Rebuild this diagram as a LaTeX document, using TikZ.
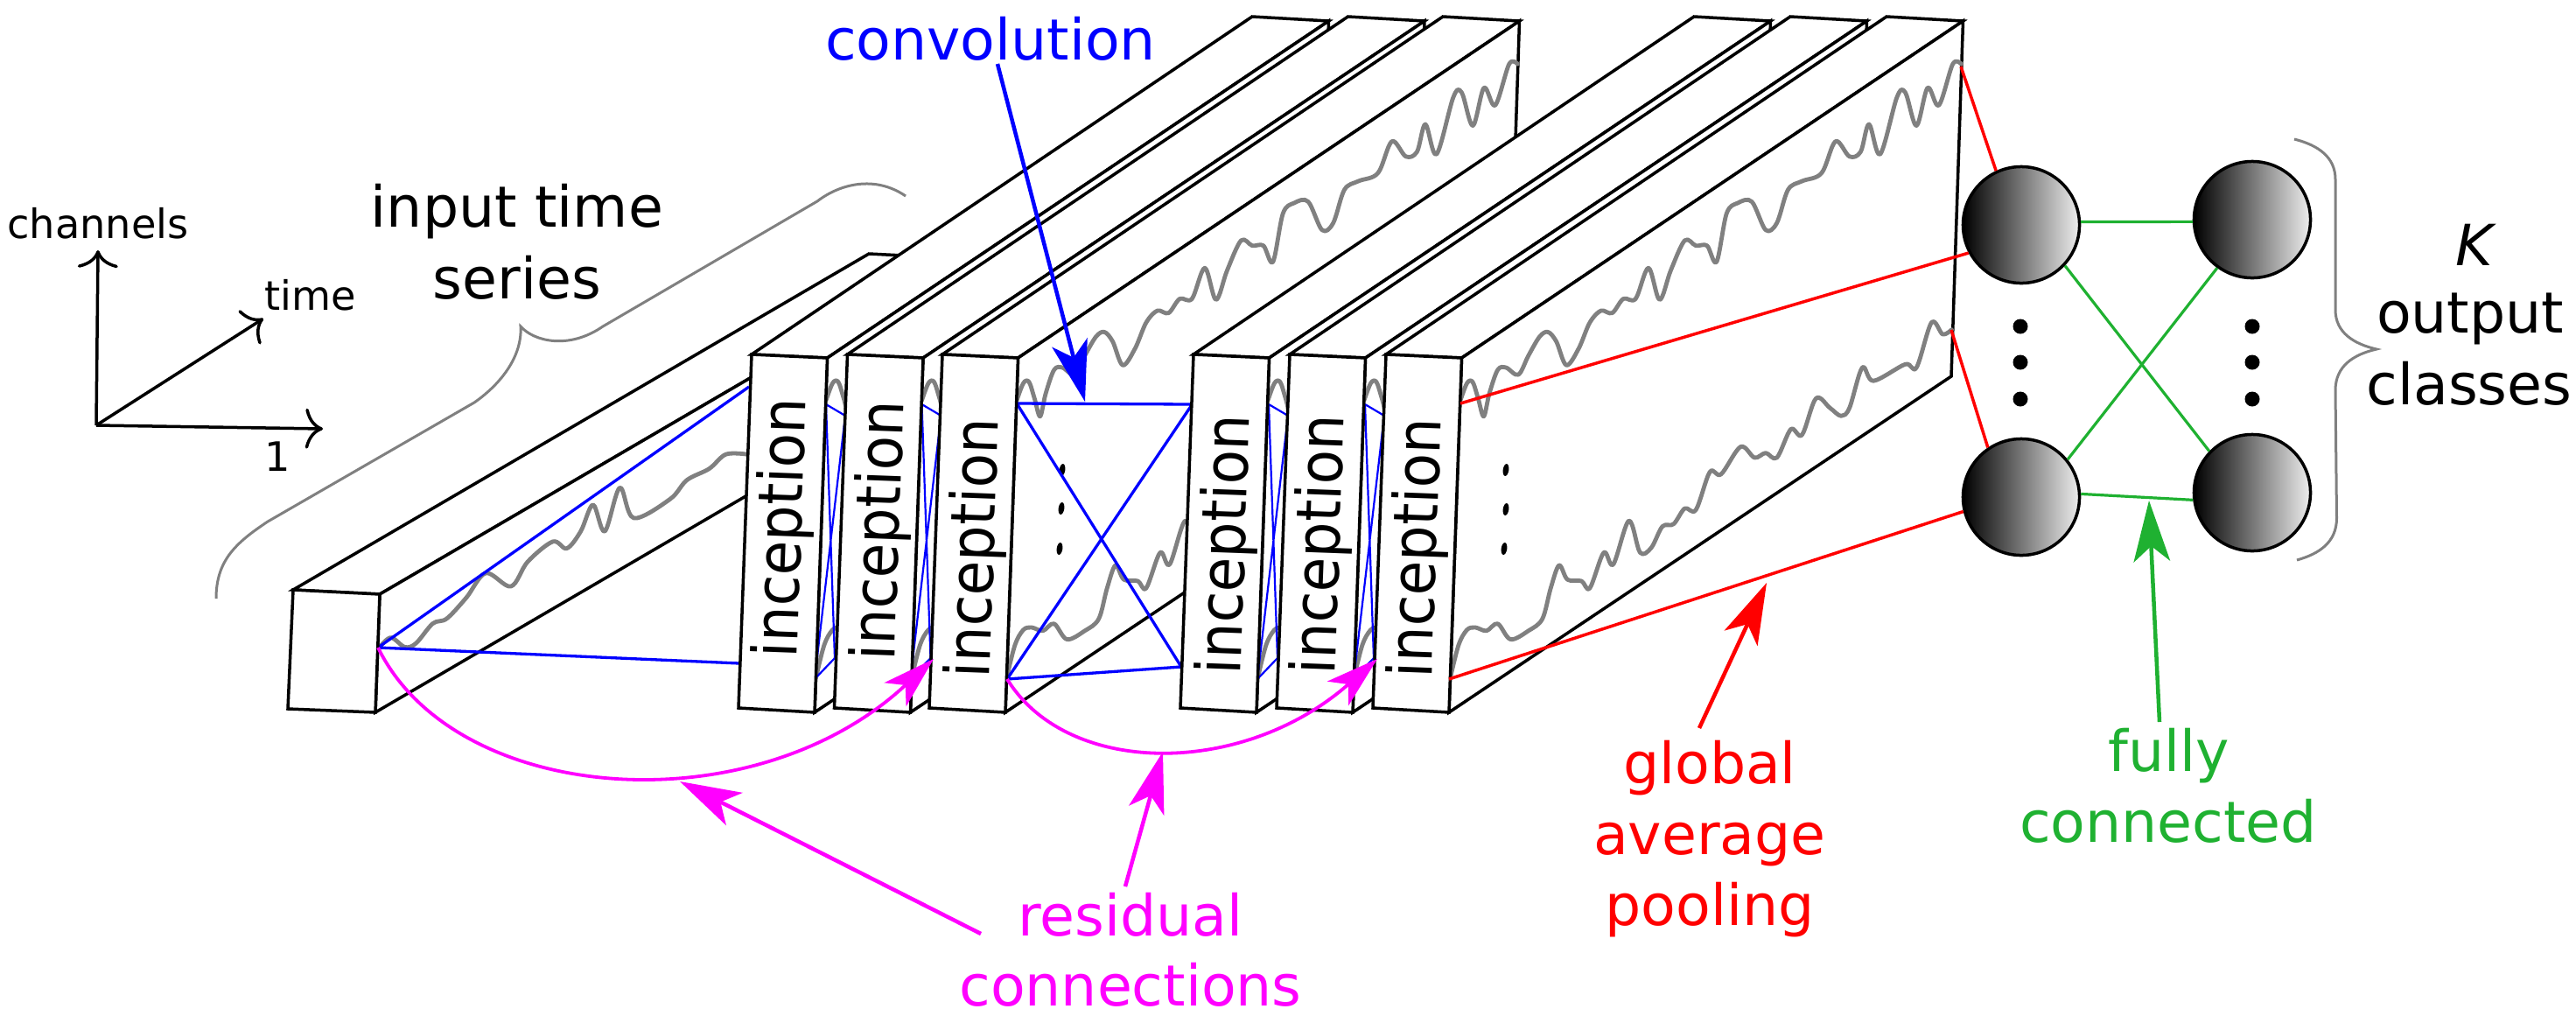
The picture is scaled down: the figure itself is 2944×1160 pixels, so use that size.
\documentclass[tikz,border=0pt]{standalone}
\usepackage{graphicx}
\usepackage{fontspec}
\setmainfont{DejaVu Sans}
\usetikzlibrary{arrows.meta}
\definecolor{fcgreen}{HTML}{1FB131}
\definecolor{respink}{HTML}{FF00FF}
\definecolor{pureblue}{HTML}{0000FF}
\definecolor{purered}{HTML}{FF0000}
\definecolor{midgray}{HTML}{808080}
\tikzset{
  edgeline/.style={black,line width=0.035cm,line join=miter,fill=white},
  series/.style={draw=midgray,line width=0.048cm,line join=round,line cap=round},
  conv/.style={pureblue,line width=0.033cm},
  convthin/.style={pureblue,line width=0.022cm},
  gap/.style={purered,line width=0.035cm},
  fc/.style={fcgreen,line width=0.032cm},
  res/.style={respink,line width=0.038cm},
  brace/.style={midgray,line width=0.03cm},
  axis/.style={black,line width=0.035cm,-{Computer Modern Rightarrow[length=0.2cm,width=0.46cm]}},
  bigtxt/.style={inner sep=0pt,anchor=base,font=\fontsize{18.45}{23}\selectfont},
  smalltxt/.style={inner sep=0pt,anchor=base,font=\fontsize{13.15}{16}\selectfont},
  neuron/.style={circle,draw=black,line width=0.035cm,left color=black,right color=white!93!black,minimum size=1.33cm,inner sep=0pt},
  bighead/.style={-{Stealth[length=0.7cm,width=0.42cm,inset=0.18cm,line width=0pt]}},
  archead/.style={-{Stealth[length=0.6cm,width=0.37cm,inset=0.16cm,line width=0pt]}},
}
\newcommand{\upperser}[1]{%
  \begin{scope}[xshift={(1300+#1)*0.01cm},x=0.0063776cm,y=-0.0054201cm]
  \draw[series] plot[smooth,tension=0.55] coordinates {(578,845)(590,808)(600,805)(610,840)(620,878)(630,830)(645,780)(660,775)(682,790)(700,750)(720,710)(735,700)(750,720)(768,770)(790,735)(810,680)(830,655)(850,660)(870,630)(892,630)(915,565)(935,632)(955,570)(980,507)(1000,518)(1020,518)(1037,552)(1055,450)(1075,428)(1100,425)(1125,485)(1145,470)(1165,400)(1190,382)(1225,365)(1250,298)(1275,330)(1295,320)(1310,262)(1330,325)(1360,205)(1375,195)(1395,265)(1415,185)(1435,222)(1460,135)(1475,135)};
  \end{scope}}
\newcommand{\lowerser}[1]{%
  \begin{scope}[xshift={(1300+#1)*0.01cm},x=0.0063776cm,y=-0.0054201cm]
  \draw[series] plot[smooth,tension=0.55] coordinates {(560,1430)(575,1360)(590,1328)(605,1323)(625,1330)(645,1315)(668,1348)(700,1330)(725,1305)(740,1240)(755,1192)(770,1222)(795,1225)(810,1240)(835,1165)(852,1190)(880,1098)(900,1165)(920,1155)(940,1110)(960,1105)(980,1072)(1000,1075)(1025,995)(1045,1000)(1080,942)(1105,965)(1125,955)(1145,965)(1170,905)(1190,917)(1215,840)(1240,860)(1260,877)(1275,860)(1298,775)(1318,803)(1375,768)(1395,775)(1422,680)(1442,705)(1458,695)};
  \end{scope}}
% top and right faces of a block whose front top-left corner has x=#1
\newcommand{\backfaces}[1]{%
  \draw[edgeline] (#1,405) -- (#1+86.5,409) -- (#1+659.5,24) -- (#1+572,19) -- cycle;
  \draw[edgeline] (#1+86.5,409) -- (#1+659.5,24) -- (#1+646,430) -- (#1+72,814) -- cycle;}
\newcommand{\frontface}[5]{%
  \draw[edgeline] (#1,405) -- (#1+86.5,409) -- (#1+72,814) -- (#1-15,809) -- cycle;
  \node[bigtxt,rotate=87.9] (#2) at (#1+#3,405+#4) {\scalebox{0.99}[1.08]{#5}};}
\newcommand{\thinconv}[1]{%
  \draw[convthin] (#1+85,462) -- (#1+107,475) -- (#1+72,776) -- (#1+95,752) -- (#1+85,462);}
\newcommand{\vdotsell}[2]{\fill[shift={(#1,#2)},rotate=-8] (0,0) ellipse [x radius=0.033cm,y radius=0.07cm];}
\begin{document}
\begin{tikzpicture}[x=0.01cm,y=-0.01cm]
\useasboundingbox (0,0) rectangle (2944,1160);
\fill[white] (0,0) rectangle (2944,1160);

% axes
\coordinate (origin) at (110,486);
\coordinate (axc) at (112,286);
\coordinate (axt) at (301,364);
\coordinate (axo) at (369,490);
\draw[axis] (origin) -- (axc);
\draw[axis] (origin) -- (axt);
\draw[axis] (origin) -- (axo);
\node[smalltxt] (lchannels) at (112,272) {channels};
\node[smalltxt] (ltime) at (355,354) {time};
\node[smalltxt] (lone) at (317,538) {1};

% input brace
\draw[brace] (247,684) .. controls (247,640) and (270,620) .. (306,596) -- (542,460)
  .. controls (575,437) and (597,405) .. (595,373)
  .. controls (610,390) and (650,400) .. (689,373) -- (934,230)
  .. controls (960,210) and (1000,200) .. (1035,224);
\node[bigtxt] (linput) at (591,259) {input time};
\node[bigtxt] (lseries) at (591,341) {series};

% input block
\draw[edgeline] (335,674) -- (434,679) -- (1092,295) -- (993,290) -- cycle;
\draw[edgeline] (434,679) -- (1092,295) -- (1087,430) -- (429,814) -- cycle;
\begin{scope}[yshift=-1.8cm,x=0.0063776cm,y=-0.0043365cm]
\draw[series] plot[smooth,tension=0.55] coordinates {(680,1290)(700,1265)(725,1290)(745,1280)(775,1228)(800,1215)(835,1160)(870,1095)(915,1130)(945,1065)(990,1012)(1015,1030)(1040,985)(1062,915)(1083,985)(1110,870)(1135,950)(1200,900)(1230,850)(1270,820)(1300,782)(1338,782)};
\end{scope}
\coordinate (inconv) at (432,740);
\draw[conv] (856,442) -- (inconv) -- (845,758);
\draw[edgeline] (335,674) -- (434,679) -- (429,814) -- (329,810) -- cycle;

% block 1
\backfaces{859}
\upperser{-725}\lowerser{-725}
\thinconv{859}
\frontface{859}{inc1}{57}{199}{inception}
% block 2
\backfaces{968.5}
\upperser{-615.5}\lowerser{-615.5}
\thinconv{968.5}
\frontface{968.5}{inc2}{59}{202}{inception}
% block 3
\backfaces{1077}
\upperser{-507}\lowerser{-507}
\vdotsell{1214}{537}\vdotsell{1213}{581}\vdotsell{1211}{627}
\draw[conv] (1162,461) -- (1362.5,462) -- (1151,776) -- (1350,762) -- (1162,461);
\frontface{1077}{inc3}{59}{222}{inception}
% block 4
\backfaces{1364}
\upperser{-220}\lowerser{-220}
\thinconv{1365}
\frontface{1364}{inc4}{59}{218}{inception}
% block 5
\backfaces{1474}
\upperser{-110}\lowerser{-110}
\thinconv{1475}
\frontface{1474}{inc5}{57}{218}{inception}
% block 6
\backfaces{1584}
\upperser{0}\lowerser{0}
\vdotsell{1721}{537}\vdotsell{1721}{582}\vdotsell{1719}{627}
\frontface{1584}{inc6}{57.5}{222}{inception}

% neurons
\node[neuron] (n1) at (2310,257) {};
\node[neuron] (n2) at (2574,251) {};
\node[neuron] (n3) at (2310,568) {};
\node[neuron] (n4) at (2574,563) {};
\foreach \xx in {2309,2574} \foreach \yy in {373,414,456} \fill (\xx,\yy) circle[radius=0.085cm];

% global average pooling
\coordinate (g1) at (2241,76);
\coordinate (g2) at (1669,461);
\coordinate (g3) at (2230,377);
\coordinate (g4) at (1656,776);
\draw[gap] (g1) -- (n1.115);
\draw[gap] (g2) -- (n1.208);
\draw[gap] (g3) -- (n3.124);
\draw[gap] (g4) -- (n3.194);

% fully connected
\draw[fc] (n1.3) -- (n2.182);
\draw[fc] (n3.3) -- (n4.187);
\draw[fc] (n1.317) -- (n4.136);
\draw[fc] (n3.39) -- (n2.234);

% output brace
\draw[brace] (2622,159) .. controls (2650,166) and (2669,180) .. (2669,205) -- (2669,354)
  .. controls (2669,380) and (2690,393) .. (2716,399)
  .. controls (2690,405) and (2669,418) .. (2669,446) -- (2670.5,592)
  .. controls (2670.5,620) and (2650,633) .. (2625,640);
\node[bigtxt,font=\fontsize{18.45}{23}\selectfont\itshape] (lk) at (2828,303) {K};
\node[bigtxt] (loutput) at (2823,380) {output};
\node[bigtxt] (lclasses) at (2822,462) {classes};

% residual arcs
\coordinate (r1s) at (432,740);
\coordinate (r1t) at (1067,753);
\coordinate (r2s) at (1151,776);
\coordinate (r2t) at (1574,753);
\draw[res,archead] (r1s) .. controls (520,920) and (860,945) .. (r1t);
\draw[res,archead] (r2s) .. controls (1220,888) and (1420,888) .. (r2t);

% labels with arrows
\node[bigtxt,text=pureblue] (lconv) at (1132,68) {convolution};
\coordinate (convtip) at (1240,459);
\draw[pureblue,line width=0.045cm,bighead] (1140,73) -- (convtip);

\node[bigtxt,text=respink] (lres) at (1292,1069) {residual};
\node[bigtxt,text=respink] (lconn) at (1292,1149) {connections};
\coordinate (rt1) at (777,893);
\coordinate (rt2) at (1329,859);
\coordinate (rs1) at (1121,1067);
\coordinate (rs2) at (1286,1013);
\draw[respink,line width=0.045cm,bighead] (rs1) -- (rt1);
\draw[respink,line width=0.045cm,bighead] (rs2) -- (rt2);

\node[bigtxt,text=purered] (lglobal) at (1954,895) {global};
\node[bigtxt,text=purered] (laverage) at (1954,976) {average};
\node[bigtxt,text=purered] (lpooling) at (1954,1057) {pooling};
\coordinate (gt) at (2019,666);
\coordinate (gs) at (1942,832);
\draw[purered,line width=0.045cm,bighead] (gs) -- (gt);

\node[bigtxt,text=fcgreen] (lfully) at (2479,881) {fully};
\node[bigtxt,text=fcgreen] (lconnected) at (2478,962) {connected};
\coordinate (ft) at (2456,572);
\coordinate (fs) at (2468,825);
\draw[fcgreen,line width=0.045cm,bighead] (fs) -- (ft);
\end{tikzpicture}
\end{document}
